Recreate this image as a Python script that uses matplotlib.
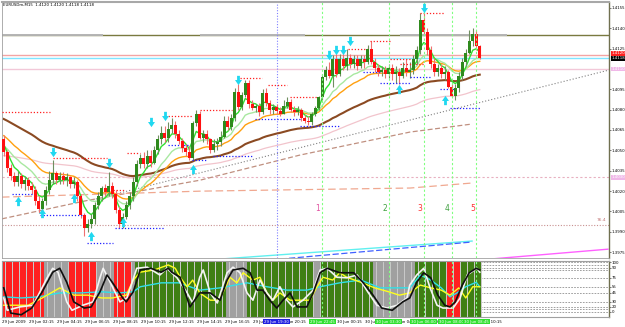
import matplotlib
matplotlib.use('Agg')
import numpy as np
import matplotlib.pyplot as plt
from matplotlib.path import Path

# ---- price data (EURUSDm M15, 29-30 Jun 2009) ----
closes = [1.4049, 1.4037, 1.4031, 1.4027, 1.4031, 1.4025, 1.4028, 1.4024, 1.4021, 1.4013,
          1.4007, 1.4013, 1.4021, 1.4028, 1.4033, 1.4028, 1.4031, 1.4028, 1.4030, 1.4025,
          1.4027, 1.4016, 1.4002, 1.3993, 1.3996, 1.3999, 1.4010, 1.4016, 1.4022, 1.4019,
          1.4024, 1.4018, 1.4006, 1.3996, 1.4001, 1.4010, 1.4016, 1.4027, 1.4040, 1.4044,
          1.4040, 1.4046, 1.4041, 1.4050, 1.4058, 1.4063, 1.4059, 1.4066, 1.4069, 1.4062,
          1.4057, 1.4052, 1.4049, 1.4044, 1.4070, 1.4077, 1.4059, 1.4062, 1.4058, 1.4050,
          1.4055, 1.4056, 1.4060, 1.4072, 1.4067, 1.4074, 1.4093, 1.4082, 1.4091, 1.4100,
          1.4084, 1.4081, 1.4083, 1.4078, 1.4092, 1.4085, 1.4080, 1.4082, 1.4079, 1.4077,
          1.4083, 1.4086, 1.4080, 1.4078, 1.4080, 1.4074, 1.4072, 1.4071, 1.4077, 1.4081,
          1.4089, 1.4104, 1.4109, 1.4105, 1.4117, 1.4106, 1.4117, 1.4112, 1.4118, 1.4114,
          1.4117, 1.4112, 1.4117, 1.4115, 1.4125, 1.4115, 1.4111, 1.4108, 1.4109, 1.4106,
          1.4111, 1.4106, 1.4108, 1.4105, 1.4111, 1.4108, 1.4109, 1.4117, 1.4124, 1.4146,
          1.4137, 1.4124, 1.4114, 1.4108, 1.4111, 1.4106, 1.4108, 1.4097, 1.4090, 1.4096,
          1.4105, 1.4115, 1.4122, 1.4131, 1.4136, 1.4127, 1.4118]
highs = [1.4061, 1.4050, 1.4040, 1.4034, 1.4035, 1.4033, 1.4031, 1.4030, 1.4027, 1.4024,
         1.4016, 1.4015, 1.4024, 1.4035, 1.4043, 1.4035, 1.4034, 1.4034, 1.4033, 1.4031,
         1.4030, 1.4028, 1.4018, 1.4004, 1.3999, 1.4003, 1.4012, 1.4019, 1.4024, 1.4025,
         1.4034, 1.4027, 1.4021, 1.4009, 1.4004, 1.4013, 1.4019, 1.4030, 1.4043, 1.4047,
         1.4049, 1.4050, 1.4050, 1.4053, 1.4061, 1.4068, 1.4068, 1.4071, 1.4074, 1.4072,
         1.4065, 1.4059, 1.4055, 1.4053, 1.4072, 1.4080, 1.4079, 1.4065, 1.4065, 1.4059,
         1.4058, 1.4059, 1.4064, 1.4075, 1.4075, 1.4077, 1.4096, 1.4099, 1.4093, 1.4102,
         1.4102, 1.4087, 1.4084, 1.4085, 1.4095, 1.4096, 1.4087, 1.4084, 1.4084, 1.4082,
         1.4087, 1.4089, 1.4088, 1.4083, 1.4083, 1.4081, 1.4076, 1.4075, 1.4078, 1.4083,
         1.4090, 1.4106, 1.4112, 1.4115, 1.4120, 1.4121, 1.4121, 1.4121, 1.4125, 1.4121,
         1.4120, 1.4120, 1.4120, 1.4120, 1.4128, 1.4131, 1.4118, 1.4114, 1.4112, 1.4112,
         1.4114, 1.4114, 1.4112, 1.4111, 1.4115, 1.4117, 1.4115, 1.4120, 1.4127, 1.4151,
         1.4152, 1.4140, 1.4127, 1.4118, 1.4114, 1.4114, 1.4112, 1.4109, 1.4099, 1.4099,
         1.4108, 1.4118, 1.4125, 1.4139, 1.4140, 1.4139, 1.4128]
lows = [1.4046, 1.4034, 1.4028, 1.4024, 1.4024, 1.4022, 1.4021, 1.4021, 1.4018, 1.4010,
        1.4004, 1.4004, 1.4010, 1.4018, 1.4025, 1.4025, 1.4025, 1.4025, 1.4024, 1.4022,
        1.4022, 1.4013, 1.4000, 1.3987, 1.3990, 1.3993, 1.3996, 1.4007, 1.4013, 1.4016,
        1.4016, 1.4015, 1.4004, 1.3993, 1.3993, 1.3999, 1.4007, 1.4013, 1.4024, 1.4037,
        1.4037, 1.4037, 1.4038, 1.4040, 1.4047, 1.4055, 1.4056, 1.4056, 1.4063, 1.4059,
        1.4055, 1.4049, 1.4046, 1.4043, 1.4043, 1.4068, 1.4058, 1.4056, 1.4055, 1.4048,
        1.4049, 1.4050, 1.4053, 1.4059, 1.4065, 1.4065, 1.4072, 1.4080, 1.4080, 1.4089,
        1.4081, 1.4080, 1.4078, 1.4075, 1.4077, 1.4083, 1.4077, 1.4077, 1.4077, 1.4075,
        1.4077, 1.4081, 1.4078, 1.4075, 1.4076, 1.4072, 1.4070, 1.4069, 1.4069, 1.4075,
        1.4080, 1.4087, 1.4102, 1.4103, 1.4097, 1.4104, 1.4105, 1.4109, 1.4109, 1.4111,
        1.4111, 1.4109, 1.4111, 1.4111, 1.4114, 1.4114, 1.4108, 1.4105, 1.4105, 1.4103,
        1.4103, 1.4102, 1.4100, 1.4099, 1.4103, 1.4105, 1.4103, 1.4106, 1.4114, 1.4121,
        1.4136, 1.4120, 1.4111, 1.4105, 1.4105, 1.4103, 1.4102, 1.4096, 1.4089, 1.4087,
        1.4093, 1.4102, 1.4112, 1.4121, 1.4127, 1.4124, 1.4117]
first_open = 1.4058
opens = [first_open] + closes[:-1]   # M15 bars open at the previous close

# moving averages: (period, seed value before the first bar)
ma_fast = (5, 1.4057)
ma_mid = (13, 1.4054)
ma_orange = (21, 1.4062)
ma_slow = (55, 1.4074)
ma_pink = (89, 1.4046)

# signal arrows (bar, price)
down_arrows = [(14, 1.4049), (30, 1.4041), (42, 1.4071), (46, 1.4075), (67, 1.4102),
               (93, 1.4120), (95, 1.4124), (97, 1.4124), (99, 1.4131), (120, 1.4155)]
up_arrows = [(4, 1.4013), (11, 1.4004), (20, 1.4015), (25, 1.3987), (34, 1.3997),
             (54, 1.4036), (113, 1.4095), (126, 1.4087)]

# short resistance / support levels (bar from, bar to, price)
res_lines = [(-0.5, 13.2, 1.4078), (14, 29.5, 1.4044), (31.2, 34.6, 1.4021), (35.2, 39, 1.4048),
             (46, 54, 1.4075), (56, 65.2, 1.4080), (67.5, 73.8, 1.4103), (75.5, 80.9, 1.4098),
             (81.8, 89.5, 1.4089), (98.4, 104.6, 1.4125), (104.6, 110.4, 1.4131),
             (110.4, 116, 1.4117), (113.2, 120.4, 1.4114), (119, 126, 1.4151)]
sup_lines = [(2.4, 9.5, 1.4018), (10.4, 23.2, 1.4002), (23.8, 31.2, 1.3982), (31.8, 46, 1.3993),
             (47, 53.2, 1.4054), (53.8, 58, 1.4043), (59.8, 71.2, 1.4046), (71.8, 84.6, 1.4073),
             (84.6, 96, 1.4068), (102.6, 107.5, 1.4108), (107.5, 116, 1.4100), (116, 122, 1.4104),
             (124.6, 129, 1.4095), (127.5, 136, 1.4081)]

# trend lines (bars, prices)
trend_gray = ([24.6, 172.6], [1.4013, 1.4109])
trend_brown = ([-0.5, 23.8, 56.1, 84.6, 116.1, 133.8], [1.39995, 1.4013, 1.4028, 1.40465, 1.40635, 1.40694])
trend_salmon = ([-0.5, 56.1, 116.1, 133.8], [1.40155, 1.40199, 1.40222, 1.40259])
trend_cyan = ([57.5, 133.8], [1.3969, 1.39831])
trend_blue = ([79, 133.8], [1.39698, 1.39824])
trend_magenta = ([138.9, 172.6], [1.39698, 1.39771])

vline_blue = 78
vlines_green = [91, 110, 120, 128, 135]
wave_bars = [89.8, 109, 119, 126.6, 134]
wave_labels = ['1', '2', '3', '4', '5']
wave_colors = ['#e050a0', '#40a040', '#ff3030', '#40a040', '#ff3030']
wave_price = 1.4007

# indicator window: bar state and lines (bar, value 0-100)
states = ('r' * 12 + 's' * 7 + 'r' * 8 + 's' * 5 + 'r' * 5 + 's' + 'g' * 26 + 's' * 6 +
          'g' * 19 + 's' * 2 + 'g' * 15 + 's' * 12 + 'g' * 9 + 'r' * 4 + 'g' * 6)
black_x = [0, 2, 5, 8, 11, 14, 16, 18, 20, 23, 25, 27.5, 29.5, 31, 34, 35, 37, 39, 42, 45, 47, 48,
           50.4, 53.2, 56, 59, 61.8, 63.8, 65.5, 68.4, 70.4, 72.4, 74, 76, 78, 79.8, 81.8, 83.8, 86.6,
           88.4, 90.4, 92.4, 96, 100, 102.6, 105.5, 108, 111, 114, 116, 118, 120, 122, 124, 126,
           127.5, 129, 131, 133, 135, 136]
black_y = [52, 7, 4, 16, 45, 80, 87, 62, 27, 16, 18, 45, 75, 62, 34, 27, 45, 84, 87, 80, 87, 80,
           71, 18, 43, 43, 30, 66, 84, 87, 79, 48, 48, 30, 16, 30, 43, 18, 18,
           43, 79, 87, 79, 79, 62, 39, 16, 12, 27, 34, 62, 79, 70, 39, 21,
           18, 27, 57, 79, 87, 84]
white_x = [0, 1, 4.6, 8.4, 12.4, 14, 15.5, 18, 19.5, 22.6, 25.5, 27.5, 28.4, 31.2, 33.2, 35.2, 38, 41,
           44.6, 46.6, 49.5, 52.4, 54, 56, 57, 59, 61, 63.8, 65.5, 67.5, 69.5, 71.2, 73.2, 75.2, 76.9,
           78.9, 80.9, 82.6, 85.5, 88.4, 90.4, 92.4, 95.2, 98, 101, 104, 106.6, 109.5, 112.4, 115.2,
           116, 118, 120, 121.8, 123.8, 125.5, 128.4, 130.4, 132.4, 135.2, 136]
white_y = [34, 12, 18, 21, 70, 87, 80, 27, 12, 21, 27, 70, 87, 52, 27, 34, 87, 89,
           75, 87, 70, 43, 25, 71, 84, 43, 25, 79, 89, 79, 43, 30, 66, 43, 30,
           54, 30, 18, 30, 48, 84, 87, 71, 70, 75, 45, 21, 16, 21, 34,
           57, 75, 87, 52, 21, 16, 16, 34, 75, 87, 80]
yellow_x = [0, 3, 7, 11, 16, 20, 24, 28, 31, 35, 37, 39, 43, 47, 49, 50.4, 52.4, 54, 56, 59, 61, 62.6,
            64.6, 66.6, 68.4, 71.2, 73.2, 75.2, 76.9, 78.9, 81.8, 84.6, 87.5, 89.5, 91.2, 94, 96, 98,
            102, 106, 110, 113, 116, 119, 122, 125, 127.5, 130, 132, 134, 136]
yellow_y = [21, 21, 21, 34, 52, 39, 39, 34, 34, 39, 66, 80, 84, 93, 87, 71, 54, 66, 43, 30, 30, 43,
            71, 61, 79, 66, 71, 43, 30, 43, 30, 30, 30, 54, 71, 66, 79, 71,
            62, 52, 45, 39, 43, 57, 52, 48, 39, 52, 34, 54, 54]
cyan_x = [0, 5, 10, 16, 22, 28, 33, 37, 39, 45, 50, 56, 61.8, 69.5, 75.2, 80.9, 86.6, 90.4, 96, 102,
          107.5, 113, 116, 119, 122, 125, 127.5, 129.5, 132, 135, 136]
cyan_y = [36, 34, 36, 43, 43, 45, 43, 45, 54, 61, 61, 48, 52, 61, 54, 48, 48, 54, 61, 66,
          52, 52, 52, 75, 66, 52, 36, 43, 54, 62, 54]
ind_levels = [98, 93, 88, 84, 70, 54, 43, 27, 18, 14, 9]
ind_level_labels = ['100', '', '90', '', '75', '55', '45', '30', '20', '', '0']

time_bars = [0, 9, 17, 25, 33, 41, 49, 57, 65, 73, 81, 89, 97, 105, 113, 121, 129, 137]
time_labels = ['29 Jun 2009', '29 Jun 02:15', '29 Jun 04:15', '29 Jun 06:15', '29 Jun 08:15',
               '29 Jun 10:15', '29 Jun 12:15', '29 Jun 14:15', '29 Jun 16:15', '29 Jun 18:15',
               '29 Jun 20:15', '29 Jun 22:15', '30 Jun 00:15', '30 Jun 02:15', '30 Jun 04:15',
               '30 Jun 06:15', '30 Jun 08:15', '30 Jun 10:15']
vline_labels = ['29 Jun 19:30', '29 Jun 22:45', '30 Jun 03:30', '30 Jun 06:00', '30 Jun 08:00',
                '30 Jun 08:45']

price_ticks = [1.4155, 1.4140, 1.4125, 1.4095, 1.4080, 1.4065, 1.4050, 1.4035, 1.4020, 1.4005,
               1.3990, 1.3975]

SMALL = 2.8   # the screenshot's scale text is very small


def ema(vals, period, seed):
    k = 2.0 / (period + 1)
    out, e = [], seed
    for v in vals:
        e = e + k * (v - e)
        out.append(e)
    return out


W, H = 625, 327
fig = plt.figure(figsize=(W / 100, H / 100), dpi=100)
fig.patch.set_facecolor('white')


def fx(px):
    return px / W


def fy(py):
    return 1 - py / H


def bx(b):
    # bar index -> pixel x
    return 3.75 + 3.5 * b


XMIN, XMAX = -0.5, -0.5 + 607 / 3.5
ax = fig.add_axes([fx(2), fy(258), fx(609) - fx(2), fy(2) - fy(258)])
axi = fig.add_axes([fx(2), fy(317), fx(609) - fx(2), fy(261) - fy(317)])

# ---- main price window ----
x = np.arange(len(closes))
o = np.array(opens); c = np.array(closes); h = np.array(highs); l = np.array(lows)
up = c >= o
ax.vlines(x[up], l[up], h[up], color='#6f8f5f', lw=0.8, zorder=3)
ax.vlines(x[~up], l[~up], h[~up], color='#f07070', lw=0.8, zorder=3)
body_lo = np.minimum(o, c)
body_h = np.maximum(np.abs(c - o), 0.00003)
ax.bar(x[up], body_h[up], bottom=body_lo[up], width=0.72, color='#2f8a1d', lw=0, zorder=4)
ax.bar(x[~up], body_h[~up], bottom=body_lo[~up], width=0.72, color='#ff1010', lw=0, zorder=4)

# moving averages
ax.plot(x, ema(closes, *ma_pink), color='#f2c4cc', lw=0.9, zorder=2)
ax.plot(x, ema(closes, *ma_slow), color='#8b4a22', lw=1.5, zorder=2)
ax.plot(x, ema(closes, *ma_orange), color='#ffa010', lw=1.0, zorder=2)
ax.plot(x, ema(closes, *ma_mid), color='#a8e8a0', lw=1.0, zorder=2)
ax.plot(x, ema(closes, *ma_fast), color='#30e030', lw=1.0, zorder=2)

# horizontal levels
ax.axhline(1.4135, color='#7a7a40', lw=1.0, zorder=1)
ax.hlines([1.4135] * 3, [-0.5, 56.1, 113.2], [28.4, 86.1, 143.8], color='#b4b4b4', lw=1.4, zorder=1)
ax.axhline(1.41203, color='#f4a4a4', lw=1.0, zorder=1)
ax.axhline(1.4118, color='#80e4ff', lw=1.0, zorder=1)
ax.axhline(1.4110, color='#f2c8d8', lw=1.0, zorder=1)
ax.axhline(1.4030, color='#e8b0c0', lw=0.8, ls=(0, (2, 2)), zorder=1)
ax.axhline(1.39949, color='#c89090', lw=0.8, ls=(0, (1, 1.5)), zorder=1)

# trend lines
ax.plot(*trend_gray, color='#808080', lw=0.8, ls=(0, (1, 1.8)), zorder=1)
ax.plot(*trend_brown, color='#c09080', lw=0.9, ls=(0, (4, 2)), zorder=1)
ax.plot(*trend_salmon, color='#f0a890', lw=0.9, ls=(0, (6, 3)), zorder=1)
ax.plot(*trend_cyan, color='#60f0f0', lw=1.0, zorder=1)
ax.plot(*trend_blue, color='#4060ff', lw=0.9, ls=(0, (5, 2)), zorder=1)
ax.plot(*trend_magenta, color='#ff60ff', lw=1.0, zorder=1)

# support / resistance dots
for a, b, p in res_lines:
    ax.hlines(p, a, b, color='#ff2020', lw=0.9, ls=(0, (1, 1.5)), zorder=3)
for a, b, p in sup_lines:
    ax.hlines(p, a, b, color='#2020ff', lw=0.9, ls=(0, (1, 1.5)), zorder=3)

# vertical lines
for a in (ax, axi):
    a.axvline(vline_blue, color='#8080ff', lw=0.8, ls=(0, (1, 1.5)), zorder=1)
    for v in vlines_green:
        a.axvline(v, color='#80ff80', lw=0.8, ls=(0, (2, 2)), zorder=6)

for b, t, col in zip(wave_bars, wave_labels, wave_colors):
    ax.text(b, wave_price, t, color=col, fontsize=5.5, ha='center', va='center', zorder=5)

# arrows
down_path = Path([(-0.3, 1), (0.3, 1), (0.3, 0.1), (0.75, 0.1), (0, -1), (-0.75, 0.1), (-0.3, 0.1), (-0.3, 1)])
up_path = Path([(-0.3, -1), (0.3, -1), (0.3, -0.1), (0.75, -0.1), (0, 1), (-0.75, -0.1), (-0.3, -0.1), (-0.3, -1)])
ax.scatter([p[0] for p in down_arrows], [p[1] for p in down_arrows], marker=down_path, s=45,
           color='#20d8f0', lw=0, zorder=6)
ax.scatter([p[0] for p in up_arrows], [p[1] for p in up_arrows], marker=up_path, s=45,
           color='#20d8f0', lw=0, zorder=6)

ax.set_xlim(XMIN, XMAX)
ax.set_ylim(1.39706, 1.41594)
ax.set_xticks([])
ax.yaxis.tick_right()
ax.set_yticks(price_ticks)
ax.set_yticklabels(['%.4f' % p for p in price_ticks])
ax.tick_params(axis='y', labelsize=SMALL, length=1.5, width=0.6, color='#606060', pad=0.5)
for s in ('left', 'bottom'):
    ax.spines[s].set_color('#a0a0a0'); ax.spines[s].set_linewidth(0.6)
ax.spines['top'].set_color('#a8a8a8'); ax.spines['top'].set_linewidth(1.5)
ax.spines['right'].set_color('#707050'); ax.spines['right'].set_linewidth(1.0)

# price boxes on the scale
boxes = [(1.41215, '1.4120', '#ff2020', 'white'), (1.4118, '1.4118', '#000000', 'white'),
         (1.4110, '1.4110', '#f0b8e8', 'white'), (1.4030, '1.4030', '#f0b8e8', 'white')]
for p, t, bg, fg in boxes:
    ax.text(1.004, p, t, transform=ax.get_yaxis_transform(), fontsize=SMALL, color=fg, va='center',
            ha='left', bbox=dict(boxstyle='square,pad=0.12', fc=bg, ec='none'), zorder=7, clip_on=False)
ax.text(XMAX - 0.8, 1.39985, '76.4', fontsize=SMALL + 0.4, color='#c07070', ha='right', va='center', zorder=5)

fig.text(fx(3), fy(5), 'EURUSDm,M15  1.4120 1.4120 1.4118 1.4118', fontsize=SMALL, color='black',
         ha='left', va='center')

# ---- indicator window ----
axi.set_facecolor('white')
for lv in ind_levels:
    axi.axhline(lv, color='#909090', lw=0.6, ls=(0, (2, 1.5)), zorder=1)
col_map = {'r': '#ff2020', 'g': '#3f7f14', 's': '#a0a0a0'}
axi.bar(x, [100] * len(x), width=1.0, color='#c8c8c8', lw=0, zorder=2)
axi.bar(x, [100] * len(x), width=0.72, color=[col_map[s] for s in states], lw=0, zorder=2)
axi.plot(cyan_x, cyan_y, color='#30e0e8', lw=1.0, zorder=4)
axi.plot(yellow_x, yellow_y, color='#ffff20', lw=1.0, zorder=4)
axi.plot(white_x, white_y, color='#f4f4f4', lw=1.2, zorder=5)
axi.plot(black_x, black_y, color='#101010', lw=1.2, zorder=6)
axi.set_xlim(XMIN, XMAX)
axi.set_ylim(0, 100)
axi.set_xticks([])
axi.yaxis.tick_right()
axi.set_yticks([lv for lv, t in zip(ind_levels, ind_level_labels) if t])
axi.set_yticklabels([t for t in ind_level_labels if t])
axi.tick_params(axis='y', labelsize=SMALL, length=1.5, width=0.6, color='#606060', pad=0.5)
for s in ('left', 'bottom', 'top'):
    axi.spines[s].set_color('#a0a0a0'); axi.spines[s].set_linewidth(0.8)
axi.spines['right'].set_color('#707050'); axi.spines['right'].set_linewidth(1.0)

# ---- time scale ----
for b, t in zip(time_bars, time_labels):
    px = max(2, bx(b) - 6)
    fig.text(fx(px), fy(321.5), t, fontsize=SMALL, color='black', ha='left', va='center')
for b, t, bg in zip([vline_blue] + vlines_green, vline_labels,
                    ['#2020e0'] + ['#30e030'] * len(vlines_green)):
    fig.text(fx(bx(b)), fy(321.5), t, fontsize=SMALL, color='white', ha='center', va='center',
             bbox=dict(boxstyle='square,pad=0.25', fc=bg, ec='none'))

fig.savefig('out.png', dpi=100)
